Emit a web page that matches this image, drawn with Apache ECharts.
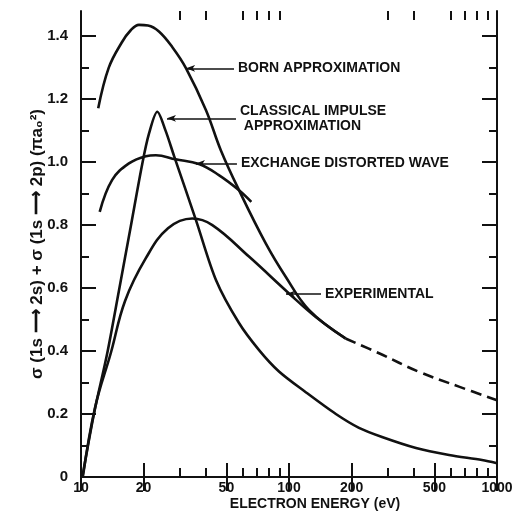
<!DOCTYPE html>
<html><head><meta charset="utf-8">
<script src="https://cdn.jsdelivr.net/npm/echarts@6/dist/echarts.min.js"></script>
<style>html,body{margin:0;padding:0;background:#fff}#c{width:521px;height:520px}</style>
</head><body><div id="c"></div>
<script>
// ---- data (energy in eV, cross section in units of pi a0^2) ----
const bornEnergy = [12.1, 13.6, 15.7, 17.3, 19.0, 21.0, 23.7, 27.5, 32.0, 39.9, 47.0, 57.5, 77.3, 96.4, 125, 187];
const bornSigma  = [1.171, 1.30, 1.38, 1.418, 1.436, 1.434, 1.415, 1.365, 1.298, 1.165, 1.038, 0.911, 0.742, 0.636, 0.53, 0.44];

const classicalEnergy = [10.15, 11.55, 13.37, 15.24, 17.34, 19.72, 21.24, 23.27, 25.5, 28.0, 35.7, 44.6, 57.5, 71.8, 89.5, 120, 168, 217, 280, 408, 588, 847, 1000];
const classicalSigma  = [0, 0.202, 0.393, 0.594, 0.795, 0.996, 1.091, 1.160, 1.10, 1.02, 0.816, 0.625, 0.489, 0.403, 0.335, 0.27, 0.20, 0.156, 0.127, 0.092, 0.070, 0.054, 0.044];

const exchangeEnergy = [12.3, 14.1, 17.0, 20.5, 22.9, 28.5, 36.9, 46.0, 57.5, 65.9];
const exchangeSigma  = [0.842, 0.943, 0.996, 1.019, 1.022, 1.009, 0.994, 0.959, 0.911, 0.874];

const experimentalEnergy = [10.2, 11.7, 13.9, 16.3, 20.5, 26.2, 34.3, 42.8, 64.2, 100, 134, 187];
const experimentalSigma  = [0, 0.222, 0.393, 0.56, 0.695, 0.79, 0.821, 0.80, 0.70, 0.583, 0.509, 0.44];

const extrapEnergy = [187, 271, 422, 656, 1000];
const extrapSigma  = [0.44, 0.393, 0.334, 0.287, 0.244];

// ---- axis ticks / labels ----
const xMajorTicks = [10, 20, 50, 100, 200, 500, 1000];
const xMinorTicks = [30, 40, 60, 70, 80, 90, 300, 400, 600, 700, 800, 900];
const yMajorTicks = [0, 0.2, 0.4, 0.6, 0.8, 1.0, 1.2, 1.4];
const yMinorTicks = [0.1, 0.3, 0.5, 0.7, 0.9, 1.1, 1.3];

// ---- annotation leaders: [E start, E end, sigma, text] ----
const notes = {
  born: [32.0, 54.4, 1.298, 'BORN APPROXIMATION'],
  classical: [25.9, 55.6, 1.139, 'CLASSICAL IMPULSE\n APPROXIMATION'],
  exchange: [35.7, 56.2, 0.996, 'EXCHANGE DISTORTED WAVE'],
  experimental: [96.7, 142.5, 0.581, 'EXPERIMENTAL']
};

const F = 'Liberation Sans';
const BLACK = '#111';
const lg = Math.log10;
const zip = (a, b) => a.map((v, i) => [v, b[i]]);

function tickX(pos, vals, len, withLine, extra) {
  return Object.assign({
    type: 'value', min: 1, max: 3, position: pos,
    axisLine: { show: withLine, lineStyle: { color: BLACK, width: 2 } },
    axisTick: { show: true, inside: true, length: len, customValues: vals.map(lg), lineStyle: { color: BLACK, width: 2 } },
    axisLabel: { show: false },
    splitLine: { show: false }
  }, extra || {});
}
function tickY(pos, vals, len, withLine, extra) {
  return Object.assign({
    type: 'value', min: 0, max: 1.48, position: pos,
    axisLine: { show: withLine, lineStyle: { color: BLACK, width: 2 } },
    axisTick: { show: true, inside: true, length: len, customValues: vals, lineStyle: { color: BLACK, width: 2 } },
    axisLabel: { show: false },
    splitLine: { show: false }
  }, extra || {});
}

const labelStyle = { color: BLACK, fontFamily: F, fontWeight: 'bold', fontSize: 14 };

function leader(key, extraLabel) {
  const n = notes[key];
  return {
    silent: true,
    symbol: ['arrow', 'none'],
    symbolSize: [5, 9],
    lineStyle: { color: BLACK, width: 1.6, type: 'solid' },
    label: Object.assign({ show: true, position: 'end', distance: 4, formatter: n[3], align: 'left', lineHeight: 15 }, labelStyle, extraLabel || {}),
    data: [[{ coord: [n[0], n[2]] }, { coord: [n[1], n[2]] }]]
  };
}

function curve(name, data, extra) {
  return Object.assign({
    name: name, type: 'line', xAxisIndex: 0, yAxisIndex: 0,
    data: data, showSymbol: false, symbol: 'none', smooth: 0.4,
    lineStyle: { color: BLACK, width: 2.6 }, silent: true
  }, extra || {});
}

const chart = echarts.init(document.getElementById('c'), null, { renderer: 'canvas' });
chart.setOption({
  backgroundColor: '#fff',
  animation: false,
  grid: { left: 81, right: 24, top: 11, bottom: 43, containLabel: false },
  xAxis: [
    { type: 'log', logBase: 10, min: 10, max: 1000, show: false },
    tickX('bottom', xMajorTicks, 14, true, {
      axisLabel: Object.assign({ show: true, customValues: xMajorTicks.map(lg), margin: 4,
        formatter: v => String(Math.round(Math.pow(10, v))) }, labelStyle),
      name: 'ELECTRON ENERGY (eV)', nameLocation: 'middle', nameGap: 20, nameMoveOverlap: false,
      nameTextStyle: Object.assign({ padding: [0, 0, 0, 52] }, labelStyle)
    }),
    tickX('bottom', xMinorTicks, 9, false),
    tickX('top', xMajorTicks, 14, true),
    tickX('top', xMinorTicks, 9, false)
  ],
  yAxis: [
    tickY('left', yMajorTicks, 15, true, {
      axisLabel: Object.assign({ show: true, customValues: yMajorTicks, margin: 13,
        formatter: v => (v === 0 ? '0' : v.toFixed(1)) }, labelStyle, { fontSize: 15 }),
      name: 'σ (1s ⟶ 2s) + σ (1s ⟶ 2p) (πa₀²)', nameLocation: 'middle', nameGap: 35, nameRotate: 90,
      nameMoveOverlap: false,
      nameTextStyle: Object.assign({}, labelStyle, { fontSize: 17 })
    }),
    tickY('left', yMinorTicks, 8, false),
    tickY('right', yMajorTicks, 15, true),
    tickY('right', yMinorTicks, 8, false)
  ],
  series: [
    curve('Born approximation', zip(bornEnergy, bornSigma), { markLine: leader('born') }),
    curve('Classical impulse approximation', zip(classicalEnergy, classicalSigma), { smooth: 0.3, markLine: leader('classical', { padding: [15, 0, 0, 0] }) }),
    curve('Exchange distorted wave', zip(exchangeEnergy, exchangeSigma), { markLine: leader('exchange') }),
    curve('Experimental', zip(experimentalEnergy, experimentalSigma), { markLine: leader('experimental') }),
    curve('Extrapolation', zip(extrapEnergy, extrapSigma), { lineStyle: { color: BLACK, width: 2.6, type: [11, 6] } })
  ]
});
</script>
</body></html>
